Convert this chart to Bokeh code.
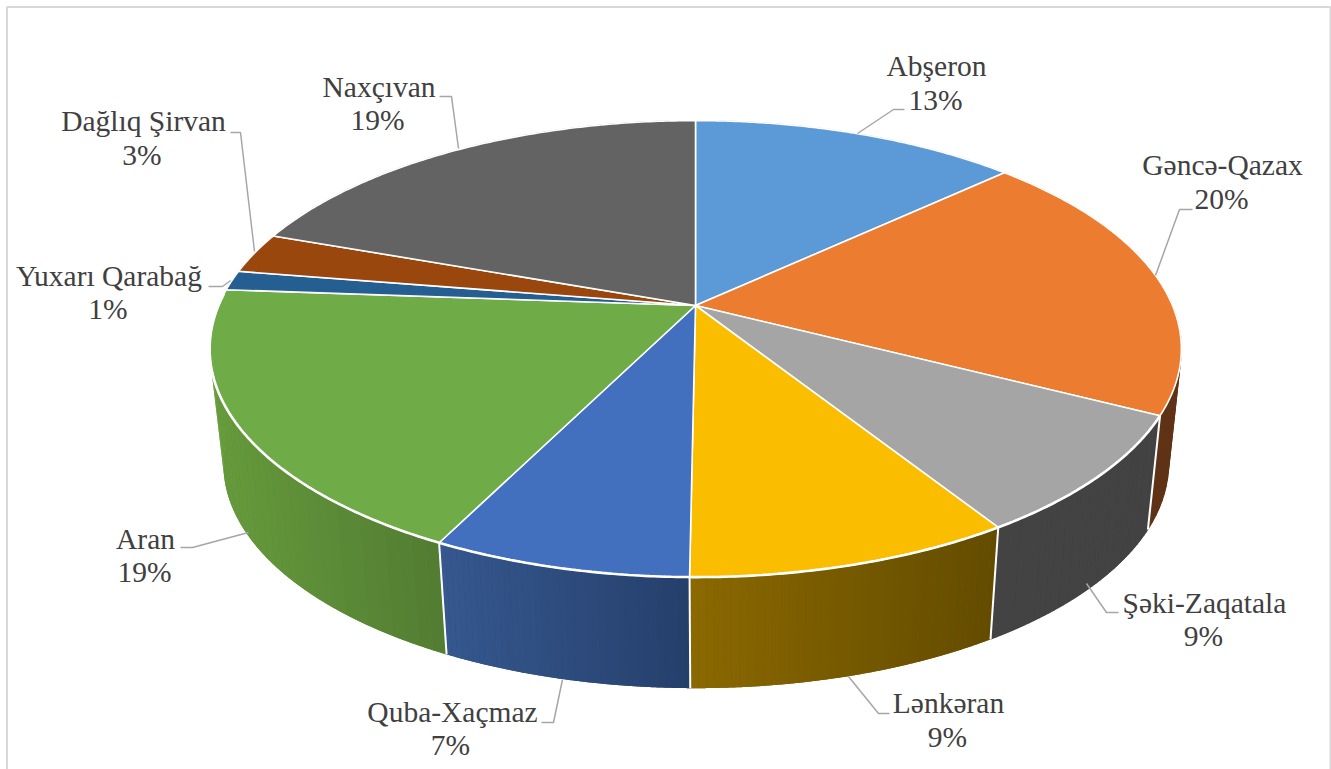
import numpy as np
from bokeh.plotting import figure
from bokeh.models import Range1d
from bokeh.core.properties import value
from bokeh.embed import file_html
from bokeh.resources import INLINE

# ---- data ----
regions = ["Abşeron", "Gəncə-Qazax", "Şəki-Zaqatala", "Lənkəran", "Quba-Xaçmaz",
           "Aran", "Yuxarı Qarabağ", "Dağlıq Şirvan", "Naxçıvan"]
shares = [13.06, 19.5, 8.5, 9.1, 7.2, 18.8, 1.4, 2.9, 19.54]
pct_labels = ["13%", "20%", "9%", "9%", "7%", "19%", "1%", "3%", "19%"]
top_colors = ["#5B9AD6", "#EB7C30", "#A5A5A5", "#FBBD00", "#4270BF",
              "#6FAB47", "#255E91", "#9A470D", "#636363"]
wall_left = ["#37618a", "#5f3315", "#434343", "#8b6900", "#36588f",
             "#669b3c", "#17395a", "#5f2b08", "#3c3c3c"]
wall_right = ["#37618a", "#5f3315", "#434343", "#634b00", "#253f6b",
              "#527c32", "#17395a", "#5f2b08", "#3c3c3c"]

# ---- layout ----
W, H = 1331, 769
label_x = [936, 1222, 1204, 948, 452, 145, 108.5, 143, 378.5]
label_y = [65, 164, 602, 702, 711, 538, 275, 120, 86]
pct_x = [935, 1221, 1203, 947, 450, 144, 107.5, 141.5, 377]
pct_y = [99, 198, 635, 736, 744, 571, 308, 154, 119]
leader_x = [[904, 893, 857], [1192, 1179, 1155], [1118, 1106, 1086], [889, 878, 848],
            [541, 553, 562], [180, 192, 248], [208, 222, 230], [230, 240, 254], [439, 451, 458]]
leader_y = [[109, 109, 133], [209, 209, 275], [612, 612, 583], [713, 713, 676],
            [722, 722, 679], [547, 547, 532], [286, 286, 280], [132, 132, 251], [96, 96, 148]]

A = 0.19
def proj(t, cx, cy, R, S):
    u, v = np.sin(t), -np.cos(t)
    k = 1.0 / (1.0 - A * v)
    return cx + R * u * k, cy + S * v * k

def top(t):
    return proj(t, 695.0, 305.0, 477.0, 220.0)

def bottom(t):
    return proj(t, 695.5, 421.0, 464.0, 216.0)

edges = np.cumsum([0.0] + shares) / sum(shares) * 2 * np.pi

p = figure(width=W, height=H, x_range=Range1d(0, W), y_range=Range1d(H, 0),
           toolbar_location=None, output_backend="svg", min_border=0)
p.axis.visible = False
p.grid.visible = False
p.outline_line_color = None
p.background_fill_color = "#ffffff"

# frame
p.multi_line([[6.5, 6.5, 1330, 1330]], [[800, 6.5, 6.5, 800]], line_color="#d9d9d9", line_width=2)

def hex2rgb(h):
    return np.array([int(h[j:j + 2], 16) for j in (1, 3, 5)], float)

def rgb2hex(c):
    return "#%02x%02x%02x" % tuple(int(round(q)) for q in c)

# side walls: bands per slice, so the shading runs across it and the silhouette is filled
for i in range(len(regions)):
    c0, c1 = hex2rgb(wall_left[i]), hex2rgb(wall_right[i])
    ts = np.linspace(edges[i], edges[i + 1], 200)
    tx, ty = top(ts)
    bx, by = bottom(ts)
    p.patch(list(tx) + list(bx[::-1]), list(ty) + list(by[::-1]),
            fill_color=rgb2hex((c0 + c1) / 2), line_color=None)
    n = 40
    ts = np.linspace(edges[i], edges[i + 1], n + 1)
    tx, ty = top(ts)
    bx, by = bottom(ts)
    xs, ys, cols = [], [], []
    for j in range(n):
        sub = np.linspace(ts[j], ts[j + 1], 5)
        sx, sy = top(sub)
        ex, ey = bottom(sub)
        xs.append(list(sx) + list(ex[::-1]))
        ys.append(list(sy) + list(ey[::-1]))
        f = (0.5 * (tx[j] + tx[j + 1]) - tx.min()) / max(1.0, tx.max() - tx.min())
        cols.append(rgb2hex(c0 + (c1 - c0) * f))
    if wall_left[i] == wall_right[i]:
        p.patches(xs, ys, fill_color=cols, line_color=cols, line_width=0.6)
    else:
        p.patches(xs, ys, fill_color=cols, line_color=None)

# white seams between the walls
for e in edges[2:6]:
    tx, ty = top(e)
    bx, by = bottom(e)
    p.line([tx, bx], [ty, by], line_color="#ffffff", line_width=2)

# top face
xs, ys = [], []
for i in range(len(regions)):
    ts = np.linspace(edges[i], edges[i + 1], 120)
    x, y = top(ts)
    xs.append([695.0] + list(x))
    ys.append([305.0] + list(y))
p.patches(xs, ys, fill_color=top_colors, line_color="#ffffff", line_width=1.6, line_join="round")

# brighter rim along the front of the top face
ts = np.linspace(edges[2], edges[6] - 0.02, 300)
x, y = top(ts)
p.line(x, y, line_color="#ffffff", line_width=2.6)

# leaders
p.multi_line(leader_x, leader_y, line_color="#a6a6a6", line_width=1.5)

# labels
font = value("Times New Roman")
p.text(label_x, label_y, text=regions, text_font=font, text_font_size="29.5px",
       text_color="#404040", text_align="center", text_baseline="middle")
p.text(pct_x, pct_y, text=pct_labels, text_font=font, text_font_size="29.5px",
       text_color="#404040", text_align="center", text_baseline="middle")

open("out.html", "w").write(file_html(p, INLINE))
